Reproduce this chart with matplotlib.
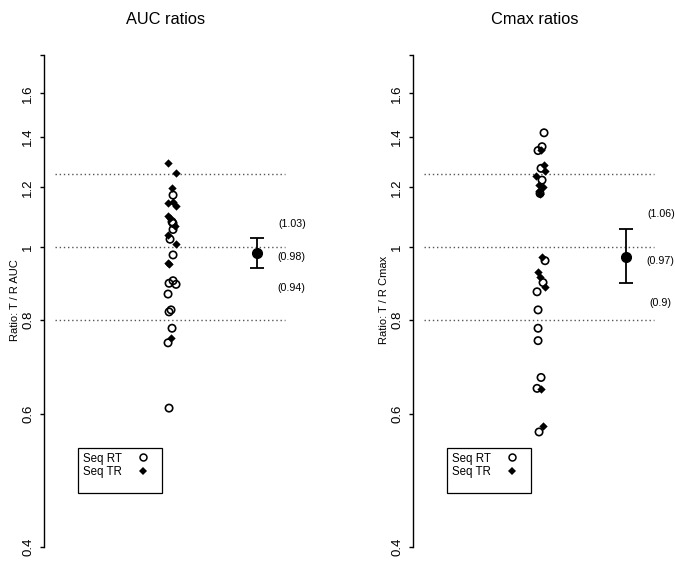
import numpy as np
import matplotlib
matplotlib.use('Agg')
import matplotlib.pyplot as plt
from matplotlib.lines import Line2D
from matplotlib.ticker import FixedLocator, FixedFormatter, NullLocator

plt.rcParams['font.family'] = ['Liberation Sans', 'DejaVu Sans']

# individual T/R ratios
auc_rt = [1.172, 1.080, 1.075, 1.055, 1.024, 0.976, 0.902, 0.895, 0.892, 0.866,
          0.825, 0.820, 0.780, 0.746, 0.611]
auc_tr = [1.294, 1.253, 1.197, 1.149, 1.145, 1.134, 1.099, 1.092, 1.066, 1.037,
          1.009, 0.953, 0.949, 0.758]
cmax_rt = [1.418, 1.359, 1.343, 1.272, 1.227, 1.178, 0.959, 0.897, 0.872, 0.825,
           0.780, 0.751, 0.671, 0.649, 0.568]
cmax_tr = [1.345, 1.285, 1.263, 1.243, 1.209, 1.202, 1.187, 1.176, 0.969, 0.927,
           0.913, 0.886, 0.647, 0.578]

# point estimate, lower, upper of the 90% CI
auc_ci = [0.983, 0.939, 1.027]
cmax_ci = [0.971, 0.897, 1.057]

# horizontal jitter of the dots (pixels)
auc_rt_jit = [3, 2, 3, 3, 0, 3, 3, -1, 6, -2, 1, -1, 2, -2, -1]
auc_tr_jit = [-2, 6, 2, 3, -2, 6, -2, 0, 5, -2, 6, -2, -1, 1]
cmax_rt_jit = [5, 3, -1, 2, 3, 1, 6, 4, -2, -1, -1, -1, 2, -2, 0]
cmax_tr_jit = [2, 5, 6, -3, 0, 4, 0, 1, 3, -1, 1, 6, 2, 4]

limits = [0.8, 1.0, 1.25]
yticks = [0.4, 0.6, 0.8, 1, 1.2, 1.4, 1.6, 1.8]
ytick_labels = ['0.4', '0.6', '0.8', '1', '1.2', '1.4', '1.6', '']

W, H = 675, 561
fig = plt.figure(figsize=(W / 100, H / 100), dpi=100)

px = 87.0  # pixels per x unit


def panel(left_px, rt, tr, rt_jit, tr_jit, ci, title, ylab):
    ax = fig.add_axes([left_px / W, (H - 555) / H, 286 / W, 525 / H])
    ax.set_yscale('log')
    ax.set_ylim(np.exp((247 - 555) / 327), np.exp((247 - 30) / 327))
    ax.set_xlim(-0.45, 2.84)

    for h in limits:
        ax.plot([-0.32, 2.32], [h, h], color='#555555', lw=1, ls=(0, (1, 2)), zorder=1)

    ax.scatter(1 + np.array(rt_jit) / px, rt, marker='o', s=28, facecolors='none',
               edgecolors='black', linewidths=1.2, zorder=3)
    ax.scatter(1 + np.array(tr_jit) / px, tr, marker='D', s=18, color='black',
               linewidths=0, zorder=4)

    pe, lo, hi = ci
    ax.errorbar([2], [pe], yerr=[[pe - lo], [hi - pe]], fmt='o', color='black', ms=7,
                capsize=4.8, elinewidth=1.3, capthick=1.3, zorder=5)
    for v, f in [(hi, 1.045), (pe, 0.988), (lo, 0.94)]:
        ax.text(2.40, v * f, '(%g)' % round(v, 2), ha='center', va='center', fontsize=7.7)

    for s in ['top', 'right', 'bottom']:
        ax.spines[s].set_visible(False)
    ax.spines['left'].set_bounds(0.4, 1.8)
    ax.spines['left'].set_linewidth(1)
    ax.set_xticks([])
    ax.yaxis.set_major_locator(FixedLocator(yticks))
    ax.yaxis.set_major_formatter(FixedFormatter(ytick_labels))
    ax.yaxis.set_minor_locator(NullLocator())
    ax.tick_params(axis='y', length=3, width=1, pad=4, labelsize=9.5)
    for t in ax.get_yticklabels():
        t.set_rotation(90)
        t.set_va('center')

    handles = [Line2D([], [], marker='o', ls='', mfc='none', mec='black', ms=5, mew=1.1),
               Line2D([], [], marker='D', ls='', color='black', ms=4, mew=0),
               Line2D([], [], ls='', marker='')]
    leg = ax.legend(handles, ['Seq RT', 'Seq TR', ' '], loc='upper left',
                    bbox_to_anchor=(0.119, 0.204), borderaxespad=0, markerfirst=False,
                    fontsize=8.3, frameon=True, fancybox=False, edgecolor='black',
                    framealpha=1, borderpad=0.4, labelspacing=0.15, handlelength=2.5,
                    handletextpad=0.6)
    leg.get_texts()[2].set_fontsize(1)
    leg.get_frame().set_linewidth(0.9)

    fig.text((left_px + 122) / W, 1 - 19 / H, title, ha='center', va='center', fontsize=11.8)
    fig.text((left_px - 29) / W, 1 - 300 / H, ylab, ha='center', va='center',
             rotation=90, fontsize=8)
    return ax


panel(44, auc_rt, auc_tr, auc_rt_jit, auc_tr_jit, auc_ci, 'AUC ratios', 'Ratio: T / R AUC')
panel(413, cmax_rt, cmax_tr, cmax_rt_jit, cmax_tr_jit, cmax_ci, 'Cmax ratios', 'Ratio: T / R Cmax')

fig.savefig('out.png', dpi=100)
